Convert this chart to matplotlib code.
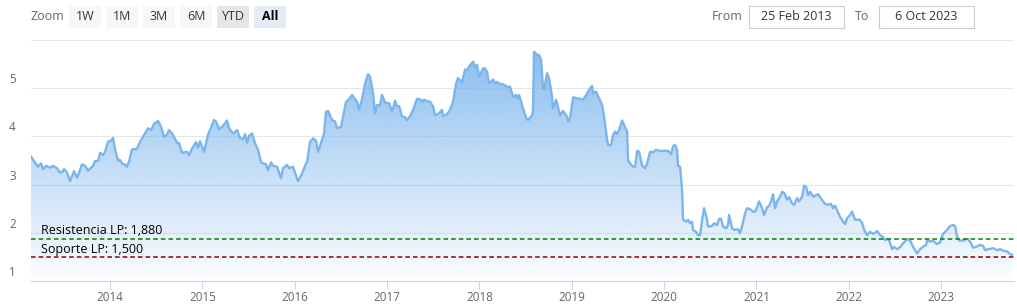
import numpy as np
import matplotlib.pyplot as plt
from matplotlib.colors import to_rgb
from matplotlib.patches import Rectangle

W, H = 1017, 306

# decimal year of each quote
anio = [
    2013.144, 2013.220, 2013.253, 2013.274, 2013.307, 2013.350, 2013.383, 2013.426,
    2013.458, 2013.480, 2013.502, 2013.534, 2013.567, 2013.610, 2013.643, 2013.697,
    2013.729, 2013.762, 2013.816, 2013.838, 2013.870, 2013.892, 2013.924, 2013.946,
    2013.978, 2014.011, 2014.032, 2014.054, 2014.087, 2014.108, 2014.130, 2014.162,
    2014.184, 2014.206, 2014.238, 2014.292, 2014.325, 2014.368, 2014.412, 2014.444,
    2014.477, 2014.520, 2014.552, 2014.585, 2014.617, 2014.639, 2014.672, 2014.726,
    2014.747, 2014.780, 2014.834, 2014.856, 2014.888, 2014.931, 2014.953, 2014.975,
    2015.018, 2015.061, 2015.126, 2015.148, 2015.181, 2015.224, 2015.267, 2015.289,
    2015.332, 2015.376, 2015.408, 2015.441, 2015.462, 2015.484, 2015.506, 2015.538,
    2015.570, 2015.603, 2015.635, 2015.690, 2015.711, 2015.744, 2015.765, 2015.809,
    2015.852, 2015.874, 2015.917, 2015.939, 2015.982, 2016.004, 2016.036, 2016.080,
    2016.123, 2016.134, 2016.166, 2016.199, 2016.231, 2016.253, 2016.285, 2016.318,
    2016.339, 2016.361, 2016.404, 2016.437, 2016.459, 2016.502, 2016.556, 2016.589,
    2016.621, 2016.654, 2016.675, 2016.697, 2016.729, 2016.762, 2016.794, 2016.816,
    2016.849, 2016.870, 2016.892, 2016.924, 2016.946, 2016.979, 2017.022, 2017.054,
    2017.087, 2017.108, 2017.130, 2017.163, 2017.195, 2017.217, 2017.249, 2017.282,
    2017.325, 2017.358, 2017.379, 2017.401, 2017.433, 2017.466, 2017.498, 2017.520,
    2017.563, 2017.596, 2017.607, 2017.650, 2017.682, 2017.715, 2017.748, 2017.769,
    2017.812, 2017.845, 2017.867, 2017.888, 2017.932, 2017.953, 2017.975, 2017.997,
    2018.040, 2018.062, 2018.083, 2018.105, 2018.148, 2018.170, 2018.192, 2018.224,
    2018.257, 2018.300, 2018.332, 2018.365, 2018.397, 2018.408, 2018.430, 2018.473,
    2018.506, 2018.527, 2018.571, 2018.581, 2018.592, 2018.625, 2018.646, 2018.668,
    2018.690, 2018.701, 2018.733, 2018.755, 2018.787, 2018.798, 2018.831, 2018.874,
    2018.906, 2018.950, 2018.961, 2018.982, 2019.015, 2019.058, 2019.091, 2019.123,
    2019.166, 2019.199, 2019.221, 2019.231, 2019.264, 2019.296, 2019.329, 2019.351,
    2019.383, 2019.394, 2019.427, 2019.448, 2019.470, 2019.491, 2019.513, 2019.545,
    2019.567, 2019.600, 2019.610, 2019.632, 2019.665, 2019.686, 2019.708, 2019.730,
    2019.762, 2019.795, 2019.816, 2019.838, 2019.849, 2019.881, 2019.914, 2019.946,
    2019.990, 2020.044, 2020.076, 2020.098, 2020.120, 2020.141, 2020.152, 2020.174,
    2020.195, 2020.206, 2020.239, 2020.260, 2020.282, 2020.304, 2020.314, 2020.347,
    2020.369, 2020.390, 2020.412, 2020.434, 2020.466, 2020.477, 2020.520, 2020.542,
    2020.574, 2020.596, 2020.618, 2020.639, 2020.672, 2020.693, 2020.704, 2020.737,
    2020.758, 2020.802, 2020.823, 2020.845, 2020.877, 2020.899, 2020.932, 2020.964,
    2020.986, 2021.008, 2021.029, 2021.062, 2021.083, 2021.116, 2021.138, 2021.159,
    2021.181, 2021.203, 2021.224, 2021.257, 2021.278, 2021.300, 2021.333, 2021.354,
    2021.387, 2021.408, 2021.441, 2021.462, 2021.495, 2021.517, 2021.538, 2021.560,
    2021.582, 2021.614, 2021.668, 2021.712, 2021.744, 2021.777, 2021.809, 2021.831,
    2021.852, 2021.874, 2021.907, 2021.939, 2021.961, 2021.982, 2022.015, 2022.036,
    2022.069, 2022.091, 2022.112, 2022.145, 2022.167, 2022.199, 2022.232, 2022.264,
    2022.286, 2022.307, 2022.340, 2022.372, 2022.394, 2022.416, 2022.437, 2022.470,
    2022.491, 2022.524, 2022.556, 2022.589, 2022.632, 2022.665, 2022.697, 2022.740,
    2022.773, 2022.806, 2022.838, 2022.849, 2022.881, 2022.914, 2022.935, 2022.957,
    2022.990, 2023.022, 2023.044, 2023.065, 2023.098, 2023.130, 2023.152, 2023.174,
    2023.195, 2023.239, 2023.271, 2023.293, 2023.325, 2023.347, 2023.380, 2023.423,
    2023.455, 2023.477, 2023.509, 2023.564, 2023.607, 2023.639, 2023.672, 2023.715,
    2023.748, 2023.769,
]

precio = [
    3.58, 3.37, 3.44, 3.32, 3.39, 3.35, 3.39, 3.34,
    3.25, 3.26, 3.32, 3.25, 3.07, 3.28, 3.14, 3.42,
    3.39, 3.29, 3.39, 3.49, 3.49, 3.66, 3.61, 3.68,
    3.89, 3.91, 3.97, 3.73, 3.50, 3.51, 3.44, 3.41,
    3.37, 3.48, 3.73, 3.74, 3.89, 4.03, 4.17, 4.13,
    4.26, 4.32, 4.20, 3.99, 4.03, 4.13, 4.06, 3.87,
    3.86, 3.66, 3.68, 3.61, 3.75, 3.88, 3.77, 3.90,
    3.68, 4.03, 4.34, 4.31, 4.15, 4.22, 4.33, 4.17,
    4.06, 4.13, 3.97, 3.94, 4.05, 3.87, 4.01, 4.06,
    3.86, 3.72, 3.46, 3.42, 3.30, 3.46, 3.39, 3.37,
    3.13, 3.34, 3.41, 3.34, 3.37, 3.25, 3.07, 3.23,
    3.44, 3.46, 3.89, 3.96, 3.91, 3.68, 3.87, 4.06,
    4.51, 4.53, 4.34, 4.31, 4.17, 4.20, 4.72, 4.77,
    4.86, 4.77, 4.72, 4.55, 4.77, 5.10, 5.29, 5.24,
    4.89, 4.48, 4.65, 4.65, 4.86, 4.70, 4.69, 4.51,
    4.74, 4.62, 4.63, 4.41, 4.40, 4.34, 4.42, 4.55,
    4.78, 4.77, 4.72, 4.76, 4.73, 4.72, 4.62, 4.44,
    4.48, 4.55, 4.42, 4.46, 4.55, 4.72, 5.10, 5.21,
    5.12, 5.39, 5.37, 5.45, 5.55, 5.45, 5.48, 5.24,
    5.41, 5.41, 5.34, 5.10, 5.18, 5.10, 5.13, 5.09,
    5.08, 5.03, 5.03, 4.82, 4.86, 4.79, 4.86, 4.58,
    4.38, 4.34, 4.44, 4.55, 5.76, 5.69, 5.69, 5.59,
    5.00, 4.98, 5.31, 5.21, 4.82, 4.58, 4.76, 4.44,
    4.53, 4.41, 4.31, 4.38, 4.81, 4.79, 4.78, 4.76,
    4.89, 5.00, 5.05, 4.89, 4.93, 4.79, 4.65, 4.41,
    3.93, 3.82, 3.82, 4.03, 4.10, 4.05, 4.13, 4.33,
    4.24, 4.10, 3.51, 3.44, 3.37, 3.37, 3.70, 3.68,
    3.40, 3.34, 3.44, 3.60, 3.68, 3.67, 3.72, 3.70,
    3.70, 3.70, 3.63, 3.80, 3.82, 3.72, 3.39, 3.37,
    2.89, 2.27, 2.23, 2.27, 2.20, 2.23, 2.06, 2.02,
    1.95, 1.95, 2.27, 2.51, 2.27, 2.13, 2.14, 2.20,
    2.16, 2.29, 2.29, 2.13, 2.09, 2.16, 2.37, 2.09,
    2.06, 2.07, 1.99, 2.13, 2.40, 2.51, 2.49, 2.44,
    2.44, 2.53, 2.65, 2.51, 2.37, 2.53, 2.56, 2.65,
    2.80, 2.51, 2.65, 2.75, 2.85, 2.83, 2.69, 2.74,
    2.61, 2.58, 2.72, 2.65, 2.75, 2.98, 2.96, 2.78,
    2.85, 2.75, 2.80, 2.68, 2.60, 2.58, 2.60, 2.51,
    2.56, 2.47, 2.33, 2.23, 2.18, 2.30, 2.37, 2.44,
    2.27, 2.27, 2.28, 2.21, 2.06, 1.95, 2.02, 1.98,
    2.00, 2.04, 1.95, 1.91, 1.85, 1.87, 1.85, 1.66,
    1.71, 1.66, 1.70, 1.78, 1.87, 1.84, 1.71, 1.57,
    1.66, 1.71, 1.75, 1.85, 1.82, 1.84, 1.80, 1.77,
    1.80, 1.98, 2.02, 2.06, 2.14, 2.16, 2.14, 1.92,
    1.84, 1.84, 1.87, 1.87, 1.78, 1.69, 1.71, 1.75,
    1.73, 1.64, 1.66, 1.68, 1.64, 1.66, 1.63, 1.61,
    1.56, 1.54,
]

anios_eje = list(range(2014, 2024))
y_etiquetas = [1, 2, 3, 4, 5]
y_rejilla = [2, 3, 4, 5, 6]

resistencia = 1.880
soporte = 1.500

botones = ['1W', '1M', '3M', '6M', 'YTD', 'All']
desde = '25 Feb 2013'
hasta = '6 Oct 2023'

plt.rcParams['font.family'] = ['Open Sans', 'DejaVu Sans']

linea = '#7cb5ec'


def fx(x):
    return x / W


def fy(y):
    return 1 - y / H


fig = plt.figure(figsize=(W / 100, H / 100), dpi=100)
ax = fig.add_axes([fx(31), fy(281), 983 / W, 241 / H])

t = np.array(anio)
p = np.array(precio)

# grid
for g in y_rejilla:
    ax.axhline(g, color='#e6e6e6', lw=0.75, zorder=0)

# area with a vertical gradient, clipped to the series shape
poly = ax.fill_between(t, p, 1, facecolor='none', edgecolor='none')
n = 256
rgba = np.zeros((n, 1, 4))
rgba[..., :3] = to_rgb(linea)
rgba[:, 0, 3] = np.linspace(0.03, 0.88, n)
im = ax.imshow(rgba, origin='lower', aspect='auto', zorder=1,
               extent=[t.min(), t.max(), 1, p.max()], interpolation='bilinear')
im.set_clip_path(poly.get_paths()[0], transform=ax.transData)
ax.set_xlim(2013.144, 2023.79)
ax.set_ylim(1, 6)

ax.plot(t, p, color=linea, lw=1.7, zorder=3, solid_joinstyle='round')

# support / resistance
ax.axhline(resistencia, color='#008000', lw=1.1, ls=(0, (3, 2)), zorder=4)
ax.axhline(soporte, color='#8b0000', lw=1.1, ls=(0, (3, 2)), zorder=4)
ax.annotate('Resistencia LP: 1,880', xy=(10 / 983, resistencia),
            xycoords=('axes fraction', 'data'), xytext=(0, 1.0),
            textcoords='offset points', va='bottom', ha='left',
            fontsize=9, color='#000000', zorder=5)
ax.annotate('Soporte LP: 1,500', xy=(10 / 983, soporte),
            xycoords=('axes fraction', 'data'), xytext=(0, 1.0),
            textcoords='offset points', va='bottom', ha='left',
            fontsize=9, color='#000000', zorder=5)

# axes styling
for s in ['top', 'right', 'left']:
    ax.spines[s].set_visible(False)
ax.spines['bottom'].set_color('#ccd6eb')
ax.spines['bottom'].set_linewidth(0.8)
ax.set_xticks(anios_eje)
ax.set_xticklabels([str(a) for a in anios_eje])
ax.tick_params(axis='x', direction='out', length=6, width=0.8, color='#ccd6eb',
               labelsize=8.4, labelcolor='#666666', pad=1.5)
ax.set_yticks([])

for v in y_etiquetas:
    ax.annotate(str(v), xy=(0, v), xycoords=('figure fraction', 'data'),
                xytext=(9, 2), textcoords='offset pixels', va='bottom', ha='left',
                fontsize=8.4, color='#666666', annotation_clip=False)

# range selector
fig.text(fx(47), fy(17), 'Zoom', ha='center', va='center', fontsize=9,
         color='#666666')
x0 = 69
for b in botones:
    if b == 'YTD':
        fc = '#e6e6e6'
    elif b == 'All':
        fc = '#e6ebf5'
    else:
        fc = '#f7f7f7'
    fig.patches.append(Rectangle((fx(x0), fy(28)), 32 / W, 22 / H, transform=fig.transFigure,
                                 facecolor=fc, edgecolor='none'))
    fig.text(fx(x0 + 16), fy(17), b, ha='center', va='center', fontsize=9,
             color='#000000' if b == 'All' else '#333333',
             fontweight='bold' if b == 'All' else 'normal')
    x0 += 37

fig.text(fx(727), fy(17), 'From', ha='center', va='center', fontsize=9, color='#666666')
fig.text(fx(862), fy(17), 'To', ha='center', va='center', fontsize=9, color='#666666')
for bx, txt in [(749, desde), (879, hasta)]:
    fig.patches.append(Rectangle((fx(bx), fy(27.5)), 95 / W, 21.5 / H, transform=fig.transFigure,
                                 facecolor='white', edgecolor='#cccccc', lw=0.8))
    fig.text(fx(bx + 47.5), fy(17), txt, ha='center', va='center', fontsize=9,
             color='#333333')

fig.savefig('out.png', dpi=100)
